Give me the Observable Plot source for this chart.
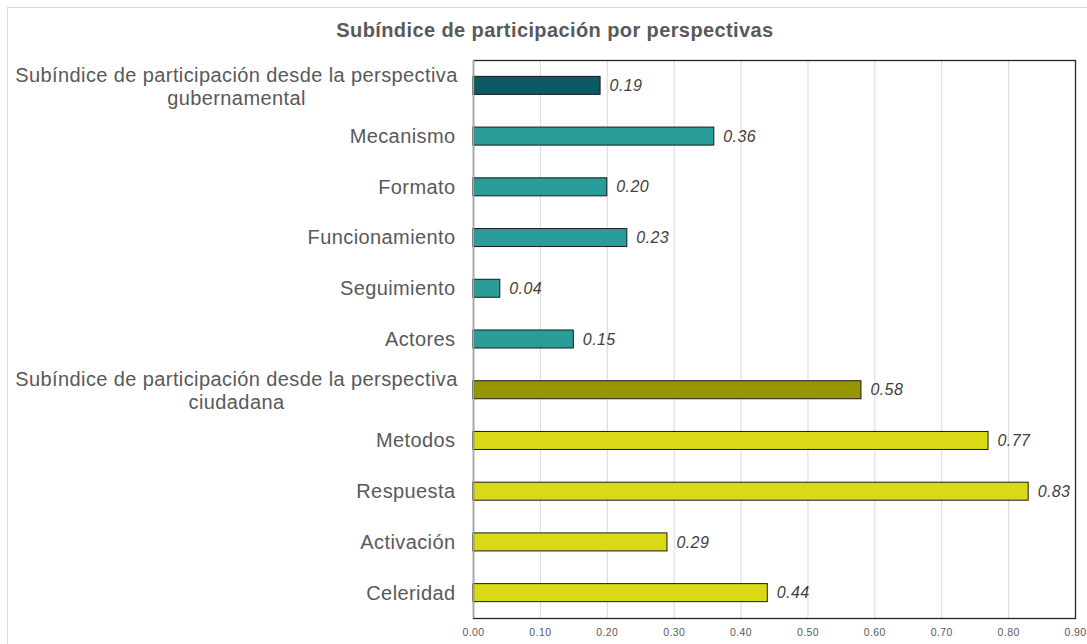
<!DOCTYPE html>
<html>
<head>
<meta charset="utf-8">
<script src="https://cdn.jsdelivr.net/npm/d3@7"></script>
<script src="https://cdn.jsdelivr.net/npm/@observablehq/plot@0.6"></script>
<style>
  html, body { margin: 0; padding: 0; background: #fff; overflow: hidden; }
  #wrap { position: relative; width: 1087px; height: 644px; }
  #border { position: absolute; left: 7px; top: 7px; width: 1100px; height: 660px; border: 1px solid #d9d9d9; box-sizing: border-box; }
  #title { position: absolute; left: 0; top: 19px; width: 1110px; text-align: center; letter-spacing: 0.4px;
           font-family: "Liberation Sans", Arial, sans-serif; font-weight: bold; font-size: 20px; color: #595959; }
  #chart { position: absolute; left: 0; top: 0; }
</style>
</head>
<body>
<div id="wrap">
  <div id="border"></div>
  <div id="title">Subíndice de participación por perspectivas</div>
  <div id="chart"></div>
</div>
<script>
const categories = [
  "Subíndice de participación desde la perspectiva gubernamental",
  "Mecanismo",
  "Formato",
  "Funcionamiento",
  "Seguimiento",
  "Actores",
  "Subíndice de participación desde la perspectiva ciudadana",
  "Metodos",
  "Respuesta",
  "Activación",
  "Celeridad"
];
const values = [0.19, 0.36, 0.20, 0.23, 0.04, 0.15, 0.58, 0.77, 0.83, 0.29, 0.44];
const groups = [
  "Gubernamental total", "Gubernamental", "Gubernamental", "Gubernamental", "Gubernamental", "Gubernamental",
  "Ciudadana total", "Ciudadana", "Ciudadana", "Ciudadana", "Ciudadana"
];
const groupNames = ["Gubernamental total", "Gubernamental", "Ciudadana total", "Ciudadana"];
const groupColors = ["#0c5a63", "#2a9d98", "#959600", "#d9d916"];
const xTicks = [0, 0.1, 0.2, 0.3, 0.4, 0.5, 0.6, 0.7, 0.8, 0.9];

const data = categories.map((c, i) => ({ category: c, value: values[i], group: groups[i] }));

// wrap long labels at the last space
function wrapLabel(s) {
  if (s.length <= 40) return s;
  const k = s.lastIndexOf(" ");
  return s.slice(0, k) + "\n" + s.slice(k + 1);
}
const shortLabels = data.filter(d => d.category.length <= 40);
const longLabels = data.filter(d => d.category.length > 40);

const font = "Liberation Sans, Arial, sans-serif";

const chart = Plot.plot({
  width: 1087,
  height: 644,
  marginTop: 60,
  marginBottom: 26,
  marginLeft: 473,
  marginRight: 12,
  style: { fontFamily: font, background: "transparent", overflow: "visible", letterSpacing: "0.4px" },
  x: { domain: [0, 0.9], ticks: xTicks },
  y: { type: "band", domain: categories, paddingInner: 0.645, paddingOuter: 0.3225, round: false, axis: null },
  color: { domain: groupNames, range: groupColors },
  marks: [
    Plot.gridX(xTicks, { stroke: "#d9d9d9", strokeOpacity: 1, strokeWidth: 1 }),
    Plot.barX(data, { x: "value", y: "category", fill: "group", stroke: "#1a1a1a", strokeWidth: 1 }),
    Plot.text(data, {
      x: "value", y: "category", text: d => d.value.toFixed(2),
      dx: 9, textAnchor: "start", fontSize: 16, fontStyle: "italic", fill: "#404040"
    }),
    Plot.frame({ stroke: "#262626", strokeWidth: 1.3 }),
    Plot.ruleX([0], { stroke: "#a6a6a6", strokeWidth: 1.3 }),
    Plot.axisX(xTicks, {
      tickSize: 0, tickPadding: 10, tickFormat: d => d.toFixed(2),
      fontSize: 10.5, fill: "#595959", label: null
    }),
    Plot.text(shortLabels, {
      x: () => 0, y: "category", text: "category",
      dx: -18, textAnchor: "end", fontSize: 20, fill: "#595959"
    }),
    Plot.text(longLabels, {
      x: () => 0, y: "category", text: d => wrapLabel(d.category),
      dx: -237, textAnchor: "middle", lineAnchor: "middle", lineHeight: 1.15,
      fontSize: 20, fill: "#595959"
    })
  ]
});
document.getElementById("chart").appendChild(chart);
</script>
</body>
</html>
